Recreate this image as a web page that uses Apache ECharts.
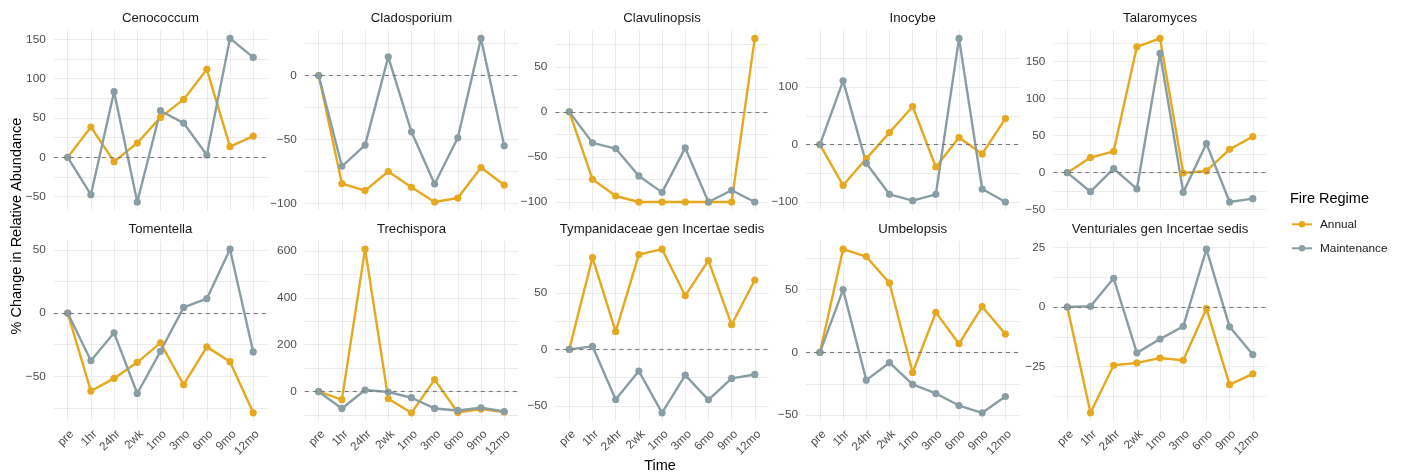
<!DOCTYPE html>
<html><head><meta charset="utf-8">
<script src="https://cdn.jsdelivr.net/npm/echarts@6/dist/echarts.min.js"></script>
<style>html,body{margin:0;padding:0;background:#fff}#c{width:1405px;height:475px}</style>
</head><body><div id="c"></div>
<script>
// ---------- data ----------
const TIMES = ['pre','1hr','24hr','2wk','1mo','3mo','6mo','9mo','12mo'];
const TAXA = ['Cenococcum','Cladosporium','Clavulinopsis','Inocybe','Talaromyces',
              'Tomentella','Trechispora','Tympanidaceae gen Incertae sedis','Umbelopsis','Venturiales gen Incertae sedis'];
const REGIMES = ['Annual','Maintenance'];

const cenococcumAnnual       = [0, 38.6, -5.5, 18.2, 50.8, 73.7, 111.9, 13.6, 27.1];
const cenococcumMaintenance  = [0, -47.5, 83.5, -56.8, 59.3, 43.6, 3.0, 151.3, 127.1];
const cladosporiumAnnual     = [0, -84.3, -89.8, -74.9, -87.2, -98.7, -95.6, -71.8, -85.4];
const cladosporiumMaintenance= [0, -70.8, -54.3, 14.6, -43.9, -84.6, -48.6, 29.0, -54.8];
const clavulinopsisAnnual    = [0, -74.8, -93.3, -100, -100, -100, -100, -100, 81.5];
const clavulinopsisMaintenance=[0, -34.4, -40.7, -71.1, -89.3, -40.0, -100, -87.0, -100];
const inocybeAnnual          = [0, -70.9, -24.4, 20.9, 66.3, -39.0, 12.2, -16.3, 45.3];
const inocybeMaintenance     = [0, 111.0, -32.6, -86.6, -97.7, -86.6, 184.9, -77.3, -100];
const talaromycesAnnual      = [0, 20.3, 28.8, 169.8, 181.1, -0.5, 2.3, 31.5, 48.6];
const talaromycesMaintenance = [0, -25.7, 5.4, -22.0, 160.8, -26.6, 39.2, -39.6, -35.1];
const tomentellaAnnual       = [0, -61.6, -51.6, -38.9, -23.5, -56.6, -26.7, -38.4, -78.8];
const tomentellaMaintenance  = [0, -37.6, -15.6, -63.5, -30.2, 4.5, 11.4, 50.5, -30.7];
const trechisporaAnnual      = [0, -34, 607, -30, -90, 51.4, -88.6, -74, -87];
const trechisporaMaintenance = [0, -71.4, 7, -1.4, -25.7, -71.4, -80, -68.6, -84.3];
const tympanidaceaeAnnual    = [0, 81.4, 15.7, 84.0, 88.8, 47.6, 78.7, 21.9, 61.5];
const tympanidaceaeMaintenance=[0, 2.7, -44.4, -19.2, -56.2, -22.8, -44.7, -25.7, -22.2];
const umbelopsisAnnual       = [0, 82.2, 76.3, 55.3, -16.0, 31.9, 6.9, 36.4, 14.6];
const umbelopsisMaintenance  = [0, 50.0, -22.1, -8.2, -25.5, -32.7, -42.3, -48.1, -35.1];
const venturialesAnnual      = [0, -44.3, -24.4, -23.4, -21.4, -22.3, -0.7, -32.5, -28.0];
const venturialesMaintenance = [0, 0.3, 12.0, -19.2, -13.4, -8.1, 24.2, -8.3, -19.9];

const cenococcumTicks    = [-50, 0, 50, 100, 150];
const cladosporiumTicks  = [-100, -50, 0];
const clavulinopsisTicks = [-100, -50, 0, 50];
const inocybeTicks       = [-100, 0, 100];
const talaromycesTicks   = [-50, 0, 50, 100, 150];
const tomentellaTicks    = [-50, 0, 50];
const trechisporaTicks   = [0, 200, 400, 600];
const tympanidaceaeTicks = [-50, 0, 50];
const umbelopsisTicks    = [-50, 0, 50];
const venturialesTicks   = [-25, 0, 25];

const ANNUAL = [cenococcumAnnual, cladosporiumAnnual, clavulinopsisAnnual, inocybeAnnual, talaromycesAnnual,
                tomentellaAnnual, trechisporaAnnual, tympanidaceaeAnnual, umbelopsisAnnual, venturialesAnnual];
const MAINT  = [cenococcumMaintenance, cladosporiumMaintenance, clavulinopsisMaintenance, inocybeMaintenance, talaromycesMaintenance,
                tomentellaMaintenance, trechisporaMaintenance, tympanidaceaeMaintenance, umbelopsisMaintenance, venturialesMaintenance];
const TICKS  = [cenococcumTicks, cladosporiumTicks, clavulinopsisTicks, inocybeTicks, talaromycesTicks,
                tomentellaTicks, trechisporaTicks, tympanidaceaeTicks, umbelopsisTicks, venturialesTicks];

// ---------- layout / style ----------
const FONT = '"Liberation Sans", Arial, Helvetica, sans-serif';
const C_ANNUAL = '#E6A81F';
const C_MAINT = '#899DA4';
const GRIDC = '#EBEBEB';
const COL_LEFT = [53.8, 304.8, 555.4, 806, 1053.4];
const ROW_TOP = [30.2, 241.0];
const PW = 213.3, PH = 180;

const fmt = v => (v < 0 ? '\u2212' + Math.abs(v) : String(v));

const grids = [], xAxes = [], yAxes = [], lineSeries = [], pointSeries = [], zeroSeries = [], graphics = [];
const idx = TIMES.map((_, k) => k);

TAXA.forEach((name, i) => {
  const row = Math.floor(i / 5), col = i % 5;
  const left = COL_LEFT[col], top = ROW_TOP[row];
  grids.push({left: left, top: top, width: PW, height: PH, containLabel: false, outerBoundsMode: 'none'});

  const all = ANNUAL[i].concat(MAINT[i]);
  const mn = Math.min.apply(null, all), mx = Math.max.apply(null, all);
  const pad = (mx - mn) * 0.05;
  const lo = mn - pad, hi = mx + pad;
  const t = TICKS[i];
  const step = t[1] - t[0];
  const gridVals = [];
  for (let k = -1; k < t.length; k++) {
    const base = k < 0 ? t[0] - step : t[k];
    if (k >= 0) gridVals.push(base);
    const m = base + step / 2;
    if (m >= lo && m <= hi) gridVals.push(m);
  }

  xAxes.push({
    type: 'value', gridIndex: i, min: -0.6, max: TIMES.length - 1 + 0.6,
    axisLine: {show: false},
    axisTick: {show: false, customValues: idx},
    splitLine: {show: true, lineStyle: {color: GRIDC, width: 1}},
    axisLabel: {show: row === 1, customValues: idx, formatter: v => TIMES[Math.round(v)],
      rotate: 45, align: 'right', verticalAlign: 'top', margin: 7,
      fontSize: 11.8, color: '#4D4D4D', fontFamily: FONT}
  });
  yAxes.push({
    type: 'value', gridIndex: i, min: lo, max: hi,
    axisLine: {show: false},
    axisTick: {show: false, customValues: gridVals},
    splitLine: {show: true, lineStyle: {color: GRIDC, width: 1}},
    minorSplitLine: {show: false},
    axisLabel: {customValues: t, formatter: fmt, margin: 8, fontSize: 11.8, color: '#4D4D4D', fontFamily: FONT}
  });

  zeroSeries.push({
    type: 'line', name: '_zero' + i, xAxisIndex: i, yAxisIndex: i, data: [], z: 1, silent: true,
    markLine: {silent: true, symbol: 'none', label: {show: false},
      lineStyle: {color: '#7A7A7A', type: [4, 4], width: 1.1},
      data: [{yAxis: 0}]}
  });
  [[ANNUAL[i], 'Annual', C_ANNUAL], [MAINT[i], 'Maintenance', C_MAINT]].forEach(([vals, nm, c]) => {
    lineSeries.push({
      type: 'line', name: nm, xAxisIndex: i, yAxisIndex: i, z: 2,
      data: vals.map((v, k) => [k, v]), showSymbol: false, symbol: 'circle', symbolSize: 7,
      itemStyle: {color: c}, lineStyle: {color: c, width: 2.4}, emphasis: {disabled: true}
    });
    pointSeries.push({
      type: 'scatter', name: nm, xAxisIndex: i, yAxisIndex: i, z: 3,
      data: vals.map((v, k) => [k, v]), symbol: 'circle', symbolSize: 7.2,
      itemStyle: {color: c, opacity: 1}, emphasis: {disabled: true}
    });
  });

  graphics.push({type: 'text', x: left + PW / 2, y: row === 0 ? 18.3 : 229.8,
    style: {text: name, fill: '#1A1A1A', font: '13.2px ' + FONT, textAlign: 'center', textVerticalAlign: 'middle'}});
});

graphics.push({type: 'text', x: 660, y: 466, style: {text: 'Time', fill: '#000', font: '14.5px ' + FONT, textAlign: 'center', textVerticalAlign: 'middle'}});
graphics.push({type: 'text', x: 17, y: 226, rotation: Math.PI / 2,
  style: {text: '% Change in Relative Abundance', fill: '#000', font: '14.5px ' + FONT, textAlign: 'center', textVerticalAlign: 'middle'}});
graphics.push({type: 'text', x: 1290, y: 199, style: {text: 'Fire Regime', fill: '#000', font: '14.5px ' + FONT, textAlign: 'left', textVerticalAlign: 'middle'}});

const option = {
  animation: false,
  backgroundColor: '#ffffff',
  textStyle: {fontFamily: FONT},
  grid: grids, xAxis: xAxes, yAxis: yAxes,
  series: zeroSeries.concat(lineSeries, pointSeries),
  legend: {
    data: REGIMES, orient: 'vertical', left: 1286, top: 213.3, padding: 5,
    itemWidth: 20, itemHeight: 8, itemGap: 12, selectedMode: false,
    textStyle: {fontSize: 11.8, color: '#1A1A1A', fontFamily: FONT, padding: [0, 0, 0, 3]}
  },
  graphic: graphics
};
const chart = echarts.init(document.getElementById('c'), null, {renderer: 'canvas'});
chart.setOption(option);
</script></body></html>
